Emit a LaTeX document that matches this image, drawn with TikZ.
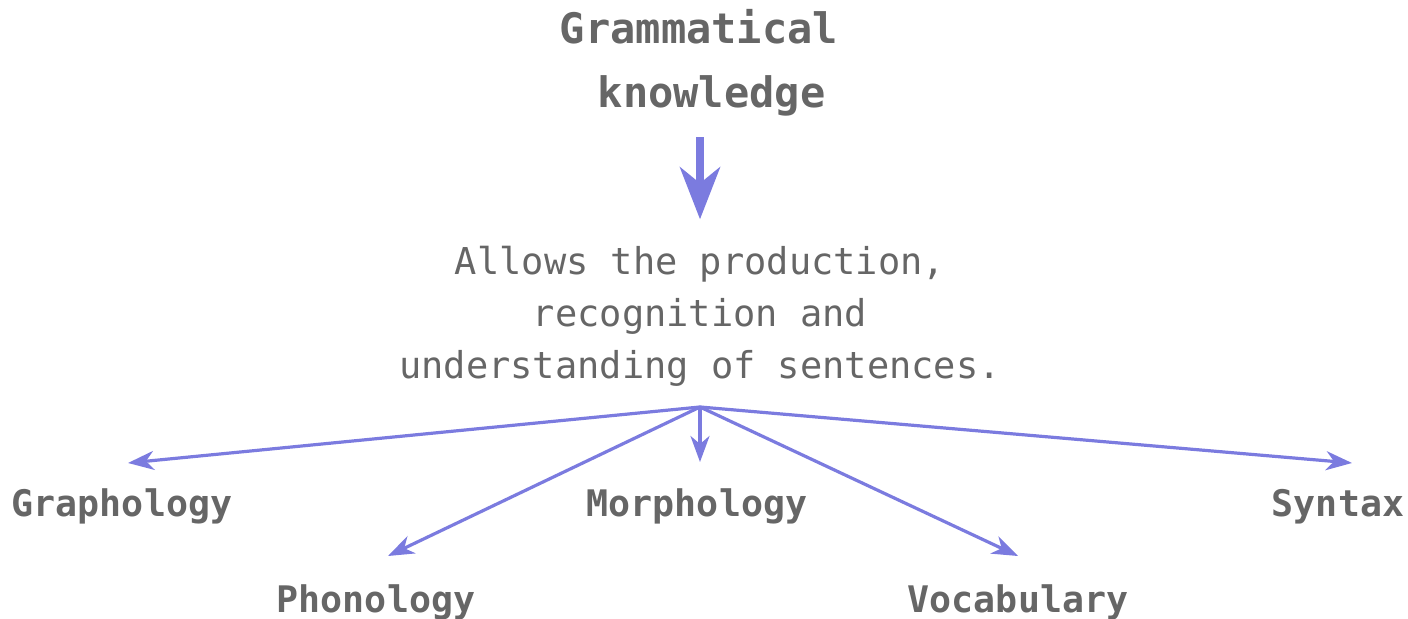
\documentclass[tikz,border=0pt]{standalone}
\usepackage{fontspec}
\setmonofont{DejaVu Sans Mono}
\usetikzlibrary{arrows.meta}
\definecolor{linkblue}{HTML}{7B7BDF}
\definecolor{inkgrey}{HTML}{666666}
\begin{document}
\begin{tikzpicture}[x=0.5pt,y=-0.5pt,
    every node/.style={inner sep=0pt, text=inkgrey},
    heading/.style={font=\ttfamily\bfseries\fontsize{21}{32}\selectfont, align=center},
    blurb/.style={font=\ttfamily\fontsize{18.5}{26}\selectfont, align=center},
    branch/.style={font=\ttfamily\bfseries\fontsize{18.3}{22}\selectfont},
    bigarrow/.style={draw=linkblue, line width=4pt, -{Stealth[length=26pt,width=20pt,inset=8pt]}},
    link/.style={draw=linkblue, line width=1.6pt, -{Stealth[length=13pt,width=9.5pt,inset=4pt]}}]
    \useasboundingbox (0,0) rectangle (1408,619);
    % Heading and description
    \node[heading, anchor=base] (gram) at (699,108) {Grammatical\\\hphantom{k}knowledge};
    \node[blurb, anchor=base] (allows) at (700,379) {Allows the production,\\recognition and\\understanding of sentences.};
    \draw[bigarrow, shorten <=10pt, shorten >=13.5pt] (gram.south -| allows.north) -- (allows.north);
    % Branches
    \node[branch, anchor=base] (graph) at (122,517) {Graphology};
    \node[branch, anchor=base] (phono) at (376,612) {Phonology};
    \node[branch, anchor=base] (morph) at (697,517) {Morphology};
    \node[branch, anchor=base] (vocab) at (1018,612) {Vocabulary};
    \node[branch, anchor=base] (syntax) at (1338,517) {Syntax};
    % Arrow ends
    \coordinate (hub) at (700,407);
    \coordinate (graphtip) at (128,463);
    \coordinate (phonotip) at (388,556);
    \coordinate (morphtip) at (700,462);
    \coordinate (vocabtip) at (1018,556);
    \coordinate (syntaxtip) at (1352,463);
    \foreach \t in {graphtip,phonotip,morphtip,vocabtip,syntaxtip}
        \draw[link] (hub) -- (\t);
\end{tikzpicture}
\end{document}
